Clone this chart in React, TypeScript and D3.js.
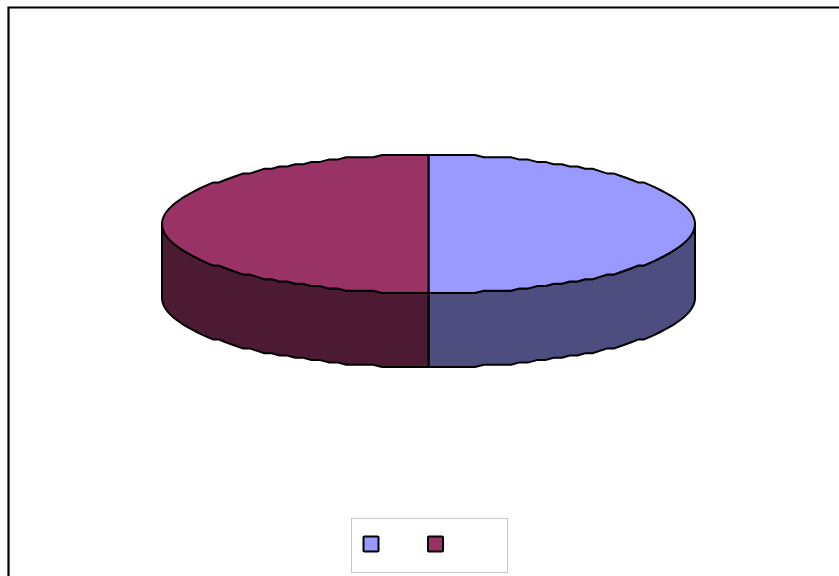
import React from "react";
import * as d3 from "d3";

// Two equal slices, clockwise from twelve o'clock
const sliceValues = [50, 50];
const topColors = ["#9999ff", "#993366"];
const sideColors = ["#4d4d80", "#4d1a33"];

const cx = 428.5;
const cy = 224;
const rx = 266.5;
const ry = 69;
const depth = 74;
const gridY = 2.3;
const angleStep = Math.PI / 90;

const xScale = d3.scaleLinear().domain([-1, 1]).range([cx - rx, cx + rx]);
const yScale = d3.scaleLinear().domain([-1, 1]).range([cy - ry, cy + ry]);

// The rim's heights are snapped to a small grid, which gives it a faceted outline
function rimPoints(a0: number, a1: number, dy: number): [number, number][] {
  const steps = Math.round((a1 - a0) / angleStep);
  return d3.range(steps + 1).map((i) => {
    const a = a0 + ((a1 - a0) * i) / steps;
    const x = xScale(Math.sin(a));
    const y = yScale(-Math.cos(a));
    return [x, Math.round((y - cy) / gridY) * gridY + cy + dy] as [number, number];
  });
}

const line = d3.line();

export default function App() {
  const arcs = d3.pie<number>().sort(null)(sliceValues);
  return (
    <svg width={839} height={576} style={{ position: "fixed", left: 0, top: 0 }}>
      <rect width={839} height={576} fill="#fff" />
      <path d="M8.5,576V7.5H839" fill="none" stroke="#000" strokeWidth={2.2} />
      {arcs.map((d, i) => {
        // The visible wall runs from the side of the disc to its front centre
        const wallFrom = i === 0 ? Math.PI / 2 : Math.PI;
        const wallTo = i === 0 ? Math.PI : (3 * Math.PI) / 2;
        const front = rimPoints(wallFrom, wallTo, 0);
        const wall = [
          ...front,
          ...front
            .slice()
            .reverse()
            .map(([x, y]) => [x, y + depth] as [number, number]),
        ];
        return (
          <path
            key={`wall-${i}`}
            d={line(wall) + "Z"}
            fill={sideColors[i]}
            stroke="#000"
            strokeWidth={2}
            strokeLinejoin="round"
          />
        );
      })}
      {arcs.map((d, i) => {
        const top = [[cx, cy] as [number, number], ...rimPoints(d.startAngle, d.endAngle, 0)];
        return (
          <path
            key={`top-${i}`}
            d={line(top) + "Z"}
            fill={topColors[i]}
            stroke="#000"
            strokeWidth={2}
            strokeLinejoin="round"
          />
        );
      })}
      <rect x={351.5} y={518.5} width={156} height={54} fill="#fff" stroke="#c8c8c8" strokeWidth={1} />
      {topColors.map((c, i) => (
        <rect
          key={c}
          x={363.5 + i * 64.5}
          y={536.5}
          width={15}
          height={15}
          rx={1}
          fill={c}
          stroke="#000"
          strokeWidth={2}
        />
      ))}
    </svg>
  );
}
